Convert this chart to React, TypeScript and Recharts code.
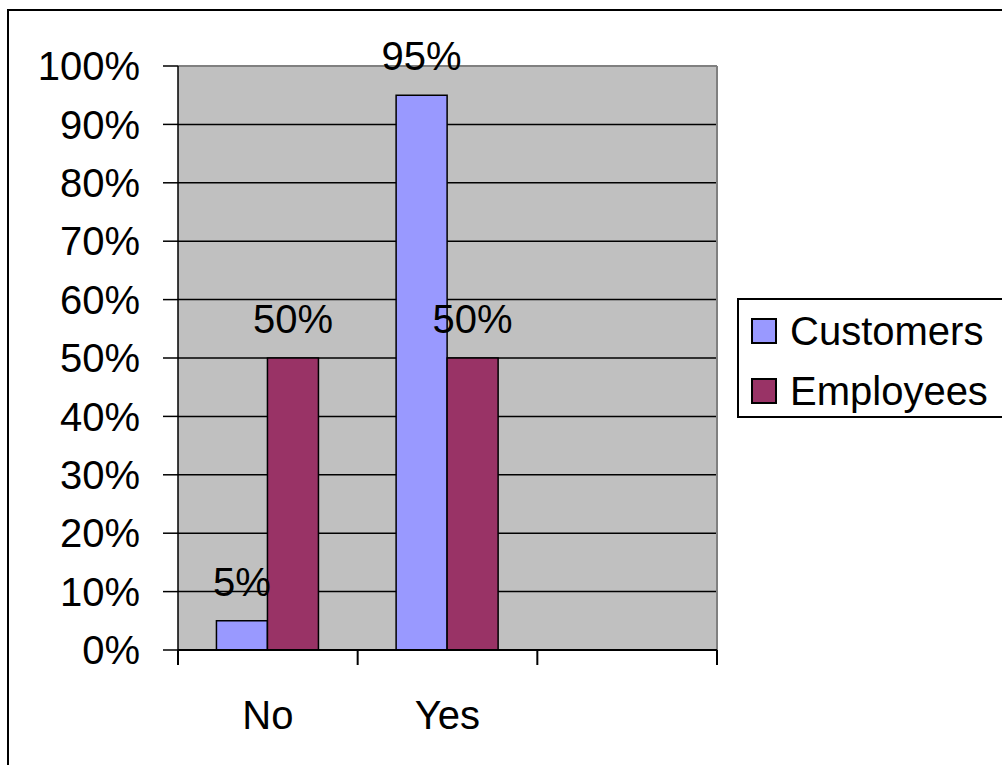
import React from "react";
import {
  Bar,
  BarChart,
  CartesianGrid,
  LabelList,
  Legend,
  XAxis,
  YAxis,
} from "recharts";

const categories = ["No", "Yes", ""];
const customers = [5, 95, null];
const employees = [50, 50, null];
const yTicks = [0, 10, 20, 30, 40, 50, 60, 70, 80, 90, 100];

const data = categories.map((name, i) => ({
  name,
  customers: customers[i],
  employees: employees[i],
}));

const FONT = '"Liberation Sans", Arial, sans-serif';
const pct = (v: any) => (v == null ? "" : `${v}%`);

const X_TICK_SIZE = 15;
const X_TICK_MARGIN = 36;

// category label plus tick marks on the category boundaries (Excel style)
function CategoryTick(props: any) {
  const { x, y, payload, index, visibleTicksCount } = props;
  const half = payload.offset || 0;
  const axisY = y - X_TICK_SIZE - X_TICK_MARGIN;
  return (
    <g>
      <line x1={x - half} x2={x - half} y1={axisY} y2={axisY + X_TICK_SIZE} stroke="#000" strokeWidth={2} />
      {index === visibleTicksCount - 1 && (
        <line x1={x + half} x2={x + half} y1={axisY} y2={axisY + X_TICK_SIZE} stroke="#000" strokeWidth={2} />
      )}
      <text x={x} y={y} dy="0.71em" textAnchor="middle" fill="#000" fontSize={40} fontFamily={FONT}>
        {payload.value}
      </text>
    </g>
  );
}

function LegendBox(props: any) {
  const items = props.payload || [];
  return (
    <div
      style={{
        border: "2px solid #000",
        background: "#fff",
        boxSizing: "border-box",
        width: 275,
        height: 120,
        paddingTop: 1,
        fontFamily: FONT,
        fontSize: 40,
        lineHeight: 1,
        color: "#000",
      }}
    >
      {items.map((it: any) => (
        <div key={it.value} style={{ height: 60, display: "flex", alignItems: "center" }}>
          <span
            style={{
              display: "inline-block",
              width: 26,
              height: 26,
              boxSizing: "border-box",
              border: "2px solid #000",
              background: it.color,
              marginLeft: 12,
              marginRight: 13,
            }}
          />
          <span>{it.value}</span>
        </div>
      ))}
    </div>
  );
}

export default function App() {
  return (
    <div
      style={{
        position: "absolute",
        left: 0,
        top: 0,
        width: 1002,
        height: 765,
        overflow: "hidden",
        background: "#fff",
      }}
    >
      <div
        style={{
          position: "absolute",
          left: 7,
          top: 9,
          width: 1010,
          height: 770,
          border: "2px solid #000",
        }}
      />
      <BarChart
        width={1002}
        height={765}
        data={data}
        margin={{ top: 66, right: 285, bottom: 0, left: 0 }}
        barCategoryGap="21.4%"
        barGap={0}
        style={{ position: "absolute", left: 0, top: 0 }}
      >
        <CartesianGrid vertical={false} stroke="#000" strokeWidth={1.5} fill="#C0C0C0" fillOpacity={1} />
        <CartesianGrid
          stroke="#808080"
          strokeWidth={2}
          horizontalCoordinatesGenerator={({ offset }: any) => [offset.top]}
          verticalCoordinatesGenerator={({ offset }: any) => [offset.left + offset.width]}
        />
        <XAxis
          dataKey="name"
          interval={0}
          height={115}
          tickLine={false}
          tickSize={X_TICK_SIZE}
          tickMargin={X_TICK_MARGIN}
          axisLine={{ stroke: "#000", strokeWidth: 2 }}
          tick={<CategoryTick />}
        />
        <YAxis
          width={178}
          domain={[0, 100]}
          ticks={yTicks}
          interval={0}
          tickFormatter={pct}
          tickSize={15}
          tickMargin={23}
          tickLine={{ stroke: "#000", strokeWidth: 1.5 }}
          axisLine={{ stroke: "#000", strokeWidth: 1.5 }}
          tick={{ fill: "#000", fontSize: 40, fontFamily: FONT }}
        />
        <Legend
          layout="vertical"
          align="center"
          verticalAlign="middle"
          wrapperStyle={{ left: 737, top: 298, width: 275, height: 120 }}
          content={<LegendBox />}
        />
        <Bar dataKey="customers" name="Customers" fill="#9999FF" stroke="#000" strokeWidth={1.5} isAnimationActive={false}>
          <LabelList dataKey="customers" position="top" offset={25} formatter={pct} fill="#000" fontSize={40} fontFamily={FONT} />
        </Bar>
        <Bar dataKey="employees" name="Employees" fill="#993366" stroke="#000" strokeWidth={1.5} isAnimationActive={false}>
          <LabelList dataKey="employees" position="top" offset={25} formatter={pct} fill="#000" fontSize={40} fontFamily={FONT} />
        </Bar>
      </BarChart>
    </div>
  );
}
